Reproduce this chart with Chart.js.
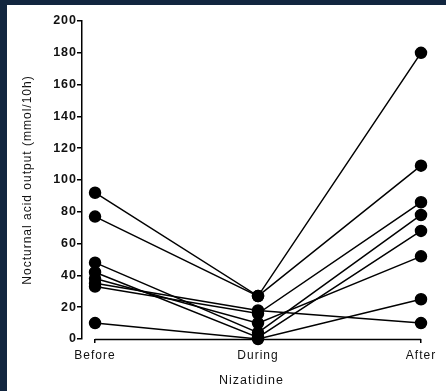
<!DOCTYPE html>
<html>
<head>
<meta charset="utf-8">
<script src="https://cdn.jsdelivr.net/npm/chart.js@4/dist/chart.umd.min.js"></script>
<style>
  html, body { margin: 0; padding: 0; }
  body { width: 446px; height: 391px; background: #12263f; position: relative; overflow: hidden; }
  #panel { position: absolute; left: 7px; top: 5px; width: 439px; height: 386px; background: #fff; }
</style>
</head>
<body>
<div id="panel"><canvas id="chart"></canvas></div>
<script>
// ---------- datos ----------
const phases = ['Before', 'During', 'After'];
const yTicks = [0, 20, 40, 60, 80, 100, 120, 140, 160, 180, 200];

// un valor por paciente en cada fase (mmol/10h)
const before = [92, 77, 48, 42, 38, 35, 33, 10];
const during = [27, 27, 4, 1, 10, 18, 16, 0];
const after  = [180, 109, 78, 68, 52, 10, 86, 25];

const FONT = '"Liberation Sans", Arial, Helvetica, sans-serif';

// cada paciente es una linea
const datasets = before.map((b, i) => ({
  data: [b, during[i], after[i]].map((v, k) => ({ x: k, y: v })),
  borderColor: '#000',
  backgroundColor: '#000',
  borderWidth: 1.5,
  pointRadius: 5.5,
  pointHoverRadius: 5.5,
  tension: 0,
  clip: false
}));

// linea del eje x solo entre la primera y la ultima categoria
const xBracket = {
  id: 'xBracket',
  beforeDatasetsDraw(chart) {
    const x = chart.scales.x;
    const y0 = chart.chartArea.bottom + 0.5;
    const c = chart.ctx;
    c.save();
    c.strokeStyle = '#000';
    c.lineWidth = 1.5;
    c.beginPath();
    c.moveTo(x.getPixelForValue(0), y0);
    c.lineTo(x.getPixelForValue(phases.length - 1), y0);
    c.stroke();
    c.restore();
  }
};

// texto algo espaciado como en la figura escaneada
const spacing = {
  id: 'spacing',
  beforeUpdate(chart) { chart.ctx.letterSpacing = '1px'; },
  beforeDraw(chart) { chart.ctx.letterSpacing = '1px'; }
};

new Chart(document.getElementById('chart'), {
  type: 'line',
  data: { datasets },
  plugins: [xBracket, spacing],
  options: {
    responsive: true,
    maintainAspectRatio: false,
    animation: false,
    layout: { padding: { top: 16, right: 25, left: 0, bottom: 0 } },
    plugins: { legend: { display: false }, tooltip: { enabled: false } },
    scales: {
      x: {
        type: 'linear',
        min: -0.08,
        max: phases.length - 1,
        afterBuildTicks: (s) => { s.ticks = phases.map((_, i) => ({ value: i })); },
        afterFit: (s) => { s.height = 52; },
        border: { display: false },
        grid: { drawOnChartArea: false, drawTicks: true, tickLength: 4, color: '#000', lineWidth: 1.5 },
        ticks: {
          callback: (v) => phases[v],
          color: '#111',
          font: { family: FONT, size: 12 },
          padding: 5,
          maxRotation: 0,
          autoSkip: false
        },
        title: {
          display: true,
          text: 'Nizatidine',
          color: '#111',
          font: { family: FONT, size: 12.5 },
          padding: { top: 0, bottom: 3 }
        }
      },
      y: {
        min: 0,
        max: 200,
        afterBuildTicks: (s) => { s.ticks = yTicks.map(v => ({ value: v })); },
        afterFit: (s) => { s.width = 75; },
        border: { display: true, color: '#000', width: 1.5 },
        grid: { drawOnChartArea: false, drawTicks: true, tickLength: 5, color: '#000', lineWidth: 1.5 },
        ticks: {
          color: '#111',
          font: { family: FONT, size: 12.5, weight: 'bold' },
          padding: 0
        },
        title: {
          display: true,
          text: 'Nocturnal acid output (mmol/10h)',
          color: '#111',
          font: { family: FONT, size: 12 },
          padding: { top: 13, bottom: 0 }
        }
      }
    }
  }
});
</script>
</body>
</html>
